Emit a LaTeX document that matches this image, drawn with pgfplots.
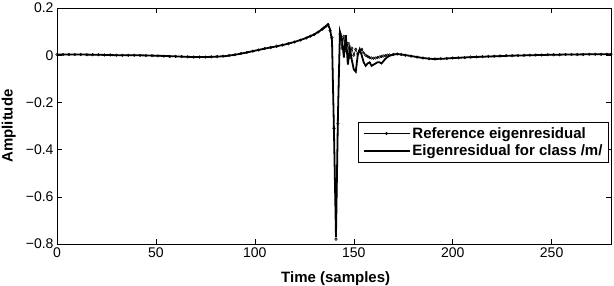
\documentclass[border=0pt]{standalone}
\usepackage{fontspec}
\setmainfont{Liberation Sans}
\usepackage{pgfplots}
\pgfplotsset{compat=1.18}
\begin{document}
\begin{tikzpicture}
\begin{axis}[
  scale only axis, width=554bp, height=236bp,
  xmin=0, xmax=280, ymin=-0.8, ymax=0.2,
  xtick={0,50,100,150,200,250},
  ytick={-0.8,-0.6,-0.4,-0.2,0,0.2},
  yticklabels={−0.8,−0.6,−0.4,−0.2,0,0.2},
  /pgf/number format/assume math mode=true,
  tick align=inside, major tick length=5bp,
  tick label style={font=\fontsize{14bp}{16bp}\selectfont},
  xlabel={\textbf{Time (samples)}},
  ylabel={\textbf{Amplitude}},
  label style={font=\fontsize{15bp}{17bp}\selectfont},
  xlabel style={at={(axis description cs:0.503,0)}, anchor=north, inner sep=0pt, yshift=-27bp},
  ylabel style={at={(axis description cs:0,0.5)}, anchor=south, inner sep=0pt, yshift=41bp},
  axis line style={line width=0.6pt},
  every tick/.style={black, line width=0.5pt},
  legend style={at={(0.996,0.517)}, anchor=north east, draw=black, line width=0.6pt,
    font=\fontsize{15bp}{18bp}\selectfont\bfseries, inner xsep=4bp, inner ysep=3bp,
    row sep=1bp},
  legend cell align=left,
  legend image code/.code={\draw[mark repeat=2,mark phase=2,#1] plot coordinates {(0bp,0bp)(23bp,0bp)(46bp,0bp)};},
]
\addplot[black, line width=0.6pt, mark=o, mark size=1.3pt, mark options={line width=0.5pt, fill=white}] coordinates {
(0,0.003)(3,0.003)(6,0.003)(9,0.003)(12,0.003)(15,0.002)(18,0.002)(21,0.002)(24,0.001)(27,0.001)(30,0.0)
(33,0.0)(36,0.0)(39,0.0)(42,-0.001)(45,-0.001)(48,-0.002)(51,-0.003)(54,-0.004)(57,-0.005)(60,-0.005)
(63,-0.006)(66,-0.007)(69,-0.008)(72,-0.008)(75,-0.008)(78,-0.007)(81,-0.006)(84,-0.004)(87,-0.001)(90,0.002)
(93,0.007)(96,0.012)(99,0.017)(102,0.022)(105,0.028)(108,0.033)(111,0.038)(114,0.043)(117,0.049)(120,0.056)
(123,0.064)(126,0.073)(128,0.08)(130,0.088)(132,0.098)(134,0.11)(135,0.117)(136,0.123)(137,0.13)
(138,0.105)(139,0.075)(140,-0.31)(141,-0.78)(142,-0.29)(143,0.09)(144,0.03)(145,0.08)(146,0.02)(147,0.05)
(148,-0.01)(149,0.03)(150,0.0)(151,0.025)(152,0.005)(153,0.02)(154,0.025)(155,0.01)(156,0.0)(157,-0.005)
(158,-0.01)(159,-0.012)(160,-0.013)(161,-0.012)(162,-0.01)(163,-0.008)(164,-0.005)(165,-0.003)(166,-0.002)
(167,0.0)(168,0.001)(170,0.003)(172,0.005)(174,0.003)(176,0.0)(179,-0.004)(182,-0.008)(185,-0.012)(188,-0.015)
(191,-0.016)(194,-0.015)(197,-0.014)(200,-0.012)(203,-0.011)(206,-0.01)(209,-0.008)(212,-0.007)(215,-0.006)
(218,-0.005)(221,-0.004)(224,-0.003)(227,-0.002)(230,-0.002)(233,-0.001)(236,0.0)(239,0.0)(242,0.001)
(245,0.001)(248,0.002)(251,0.002)(254,0.002)(257,0.003)(260,0.003)(263,0.003)(266,0.003)(269,0.004)
(272,0.004)(275,0.004)(278,0.004)(280,0.004)
};
\addlegendentry{Reference eigenresidual}
\addplot[black, line width=1.8pt, mark=none] coordinates {
(0,0.003)(10,0.003)(20,0.002)(30,0.0)(40,0.0)(50,-0.002)(60,-0.005)(70,-0.008)(78,-0.007)(85,-0.004)(90,0.002)
(95,0.01)(100,0.019)(105,0.028)(110,0.036)(115,0.045)(120,0.056)(125,0.07)(130,0.088)(133,0.104)(135,0.117)
(137,0.13)(138,0.11)(139,0.06)(140,-0.33)(141,-0.77)(142,-0.25)(143,0.10)(144,0.07)(145,-0.01)(146,0.085)
(147,-0.04)(148,0.03)(149,-0.02)(150,-0.06)(151,-0.07)(152,0.0)(153,0.025)(154,0.0)(155,-0.03)(156,-0.045)
(157,-0.035)(158,-0.03)(159,-0.045)(160,-0.04)(161,-0.035)(162,-0.03)(163,-0.03)(164,-0.035)(165,-0.025)
(166,-0.015)(167,-0.008)(168,-0.003)(170,0.003)(172,0.005)(175,0.002)(180,-0.005)(185,-0.012)(190,-0.016)
(195,-0.015)(200,-0.012)(205,-0.01)(210,-0.008)(220,-0.005)(230,-0.002)(240,0.0)(250,0.002)(260,0.003)
(270,0.004)(280,0.004)
};
\addlegendentry{Eigenresidual for class /m/}
\end{axis}
\pgfresetboundingbox
\path[use as bounding box] (-57bp,-42bp) rectangle (557bp,244bp);
\end{tikzpicture}
\end{document}
